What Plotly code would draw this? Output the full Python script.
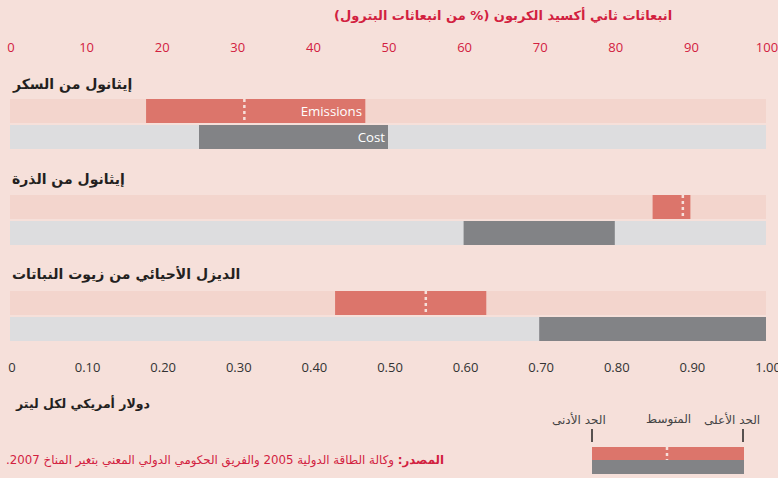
import plotly.graph_objects as go

# ---------------- data ----------------
categories = ["إيثانول من السكر", "إيثانول من الذرة", "الديزل الأحيائي من زيوت النباتات"]
emis_low = [18, 85, 43]      # % of petrol emissions
emis_high = [47, 90, 63]
emis_mean = [31, 89, 55]
cost_low = [0.25, 0.60, 0.70]   # US$ per litre
cost_high = [0.50, 0.80, 1.00]
emis_ticks = [0, 10, 20, 30, 40, 50, 60, 70, 80, 90, 100]
emis_ticktext = ["0", "10", "20", "30", "40", "50", "60", "70", "80", "90", "100"]
cost_ticks = [0, 0.1, 0.2, 0.3, 0.4, 0.5, 0.6, 0.7, 0.8, 0.9, 1.0]
cost_ticktext = ["0", "0.10", "0.20", "0.30", "0.40", "0.50", "0.60", "0.70", "0.80", "0.90", "1.00"]
emis_bar_text = ["Emissions", "", ""]
cost_bar_text = ["Cost", "", ""]

# ---------------- style ----------------
BG = "#F6E0DA"
RED_LIGHT = "#F3D5CD"
RED = "#DC756B"
GREY_LIGHT = "#DDDDDF"
GREY = "#828386"
CRIMSON = "#D2213F"
DARK = "#231F20"
W, H = 778, 478
PL, PR, PT, PB = 10, 766, 56, 358   # plot area in page pixels
L, R, T, B = PL, W - PR, PT, H - PB
BAR_H = 24
ROW_STEP = 96

def px2x(px):
    return (px - PL) / (PR - PL)

def px2y(py):
    return (PB - py) / (PB - PT)

n = len(categories)
red_y = [111 + ROW_STEP * i for i in range(n)]
cost_y = [137 + ROW_STEP * i for i in range(n)]
label_y = [84 + ROW_STEP * i - i for i in range(n)]

fig = go.Figure()

# background tracks
fig.add_trace(go.Bar(orientation="h", y=red_y, base=[0] * n, x=[100] * n, width=BAR_H,
                     marker=dict(color=RED_LIGHT, line=dict(width=0)), xaxis="x2",
                     hoverinfo="skip", showlegend=False))
fig.add_trace(go.Bar(orientation="h", y=cost_y, base=[0] * n, x=[1.0] * n, width=BAR_H,
                     marker=dict(color=GREY_LIGHT, line=dict(width=0)), xaxis="x",
                     hoverinfo="skip", showlegend=False))

# range bars
fig.add_trace(go.Bar(orientation="h", y=red_y, base=emis_low,
                     x=[h - l for h, l in zip(emis_high, emis_low)], width=BAR_H,
                     marker=dict(color=RED, line=dict(width=0)), xaxis="x2",
                     text=emis_bar_text, textposition="inside", insidetextanchor="end",
                     textfont=dict(color="white", size=14, family="Open Sans"),
                     showlegend=False))
fig.add_trace(go.Bar(orientation="h", y=cost_y, base=cost_low,
                     x=[h - l for h, l in zip(cost_high, cost_low)], width=BAR_H,
                     marker=dict(color=GREY, line=dict(width=0)), xaxis="x",
                     text=cost_bar_text, textposition="inside", insidetextanchor="end",
                     textfont=dict(color="white", size=14, family="Open Sans"),
                     showlegend=False))

# mean markers (dotted)
mx, my = [], []
for m, yc in zip(emis_mean, red_y):
    mx += [m, m, None]
    my += [yc - BAR_H / 2, yc + BAR_H / 2, None]
fig.add_trace(go.Scatter(x=mx, y=my, mode="lines", xaxis="x2",
                         line=dict(color=BG, width=2.5, dash="3px,3px"),
                         hoverinfo="skip", showlegend=False))

annotations = []
for cat, ly in zip(categories, label_y):
    annotations.append(dict(text="<b>\u200f" + cat + "\u200f</b>", x=0, xref="paper", xanchor="left",
                            y=ly, yref="y", yanchor="middle", showarrow=False,
                            font=dict(family="DejaVu Sans", size=14, color=DARK)))

# top title
annotations.append(dict(text="<b>\u200fانبعاثات ثاني أكسيد الكربون (% من انبعاثات البترول)\u200f</b>",
                        x=px2x(674), xref="paper", xanchor="right",
                        y=px2y(15), yref="paper", yanchor="middle", showarrow=False,
                        font=dict(family="DejaVu Sans", size=13, color=CRIMSON)))
# bottom axis title
annotations.append(dict(text="<b>\u200fدولار أمريكي لكل ليتر\u200f</b>",
                        x=px2x(13), xref="paper", xanchor="left",
                        y=px2y(403), yref="paper", yanchor="middle", showarrow=False,
                        font=dict(family="DejaVu Sans", size=12.5, color=DARK)))
# source
annotations.append(dict(text="\u200f<b>المصدر:</b> وكالة الطاقة الدولية 2005 والفريق الحكومي الدولي المعني بتغير المناخ 2007.\u200f",
                        x=px2x(446), xref="paper", xanchor="right",
                        y=px2y(460), yref="paper", yanchor="middle", showarrow=False,
                        font=dict(family="DejaVu Sans", size=11.8, color=CRIMSON)))
# legend labels
for txt, xr in [("الحد الأدنى", 608), ("المتوسط", 693), ("الحد الأعلى", 762)]:
    annotations.append(dict(text="\u200f" + txt + "\u200f", x=px2x(xr), xref="paper", xanchor="right",
                            y=px2y(419), yref="paper", yanchor="middle", showarrow=False,
                            font=dict(family="DejaVu Sans", size=12, color="#444")))

shapes = [
    dict(type="line", xref="paper", yref="paper", x0=px2x(592), x1=px2x(592), y0=px2y(429), y1=px2y(442),
         line=dict(color="#222", width=1.5)),
    dict(type="line", xref="paper", yref="paper", x0=px2x(743), x1=px2x(743), y0=px2y(429), y1=px2y(442),
         line=dict(color="#222", width=1.5)),
    dict(type="rect", xref="paper", yref="paper", x0=px2x(592), x1=px2x(744), y0=px2y(447), y1=px2y(460),
         fillcolor=RED, line=dict(width=0)),
    dict(type="rect", xref="paper", yref="paper", x0=px2x(592), x1=px2x(744), y0=px2y(460), y1=px2y(474),
         fillcolor=GREY, line=dict(width=0)),
    dict(type="line", xref="paper", yref="paper", x0=px2x(667), x1=px2x(667), y0=px2y(447), y1=px2y(460),
         line=dict(color=BG, width=2.5, dash="3px,3px")),
]

fig.update_layout(
    width=W, height=H,
    margin=dict(l=L, r=R, t=T, b=B, pad=0, autoexpand=False),
    paper_bgcolor=BG, plot_bgcolor=BG,
    barmode="overlay",
    showlegend=False,
    xaxis=dict(range=[0, 1.0], tickvals=cost_ticks, ticktext=cost_ticktext, showgrid=False,
               zeroline=False, showline=False, ticks="", fixedrange=True, automargin=False,
               ticklabeloverflow="allow", ticklabelshift=2,
               tickfont=dict(family="Open Sans", size=13, color="#333")),
    xaxis2=dict(range=[0, 100], overlaying="x", side="top", tickvals=emis_ticks,
                ticktext=emis_ticktext, showgrid=False,
                zeroline=False, showline=False, ticks="", fixedrange=True, automargin=False,
                ticklabeloverflow="allow", ticklabelshift=1,
                tickfont=dict(family="Open Sans", size=13, color=CRIMSON)),
    yaxis=dict(range=[PB, PT], showgrid=False, zeroline=False, showline=False,
               showticklabels=False, ticks="", fixedrange=True, automargin=False),
    annotations=annotations,
    shapes=shapes,
)

page_css = ("document.body.style.margin='0';"
            "document.body.style.background='" + BG + "';"
            "document.documentElement.style.overflow='hidden';")
fig.write_html("out.html", post_script=page_css, config={"displayModeBar": False})
